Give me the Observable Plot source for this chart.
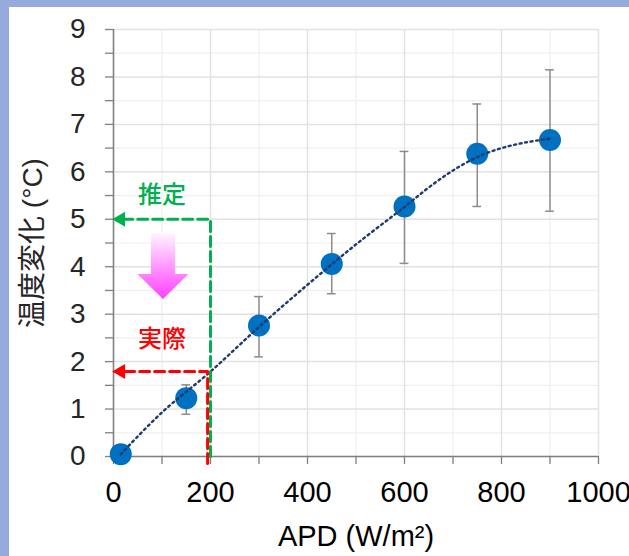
<!DOCTYPE html>
<html><head><meta charset="utf-8">
<script src="https://cdn.jsdelivr.net/npm/d3@7"></script>
<script src="https://cdn.jsdelivr.net/npm/@observablehq/plot@0.6"></script>
<style>
html,body{margin:0;padding:0;}
body{width:629px;height:556px;background:#98aadb;overflow:hidden;position:relative;}
#chart{position:absolute;left:9px;top:7px;width:620px;height:549px;background:#fff;}
</style></head><body><div id="chart"></div>
<script>
// measured data
const apd = [15, 150, 300, 450, 600, 750, 900];
const tempChange = [0.05, 1.23, 2.76, 4.06, 5.27, 6.38, 6.67];
const errLow = [null, 0.89, 2.10, 3.43, 4.07, 5.27, 5.17];
const errHigh = [null, 1.51, 3.37, 4.70, 6.43, 7.43, 8.15];
// dotted trend line
const trendApd = [15, 100, 200, 300, 400, 500, 600, 650, 700, 750, 800, 850, 900];
const trendTemp = [0.05, 0.93, 1.79, 2.73, 3.62, 4.47, 5.26, 5.67, 6.03, 6.31, 6.50, 6.62, 6.70];
// tick labels
const xTicks = [0, 200, 400, 600, 800, 1000];
const xAllTicks = [0, 100, 200, 300, 400, 500, 600, 700, 800, 900, 1000];
const yTicks = [0, 1, 2, 3, 4, 5, 6, 7, 8, 9];
const yAllTicks = [0, 0.5, 1, 1.5, 2, 2.5, 3, 3.5, 4, 4.5, 5, 5.5, 6, 6.5, 7, 7.5, 8, 8.5, 9];
// guide annotations
const guideLabels = ["推定", "実際"];
const guideApd = [200, 194];
const guideTemp = [5.0, 1.79];
const guideLabelApd = [100, 100];
const guideLabelTemp = [5.5, 2.46];
const guideColors = ["#00b050", "#ff0000"];
// pink "down" arrow
const shiftApd = 103;
const shiftFrom = 4.70;
const shiftTo = 3.31;

const points = apd.map((x, i) => ({x, y: tempChange[i], lo: errLow[i], hi: errHigh[i]}));
const bars = points.filter(d => d.lo != null);
const trend = trendApd.map((x, i) => ({x, y: trendTemp[i]}));
const guides = guideLabels.map((label, i) => ({
  label, x: guideApd[i], y: guideTemp[i], lx: guideLabelApd[i], ly: guideLabelTemp[i], color: guideColors[i],
  start: i === 1 ? -0.15 : 0
}));
const guidePaths = guides.flatMap((g, i) => [
  {id: i, x: g.x, y: g.start, color: g.color},
  {id: i, x: g.x, y: g.y, color: g.color},
  {id: i, x: 16, y: g.y, color: g.color}
]);

function pinkArrow(index, scales) {
  const cx = scales.x(shiftApd), y0 = scales.y(shiftFrom), y1 = scales.y(shiftTo);
  const sh = 12, hh = 25.5, hl = 25;
  const g = d3.create("svg:g");
  const grad = g.append("defs").append("linearGradient").attr("id", "pinkGrad")
    .attr("x1", 0).attr("y1", 0).attr("x2", 0).attr("y2", 1);
  grad.append("stop").attr("offset", "0%").attr("stop-color", "#fff6ff");
  grad.append("stop").attr("offset", "100%").attr("stop-color", "#ff3dff");
  g.append("path")
    .attr("d", `M${cx - sh},${y0}H${cx + sh}V${y1 - hl}H${cx + hh}L${cx},${y1}L${cx - hh},${y1 - hl}H${cx - sh}Z`)
    .attr("fill", "url(#pinkGrad)");
  return g.node();
}

const chart = Plot.plot({
  width: 620,
  height: 549,
  marginLeft: 104,
  marginRight: 31,
  marginTop: 22,
  marginBottom: 100,
  x: {domain: [0, 1000]},
  y: {domain: [0, 9]},
  style: {fontFamily: "'Liberation Sans', Arial, 'Noto Sans CJK JP', sans-serif", fontSize: "29px", color: "#000", background: "transparent"},
  marks: [
    Plot.ruleX(xAllTicks.filter(d => d % 200 !== 0), {stroke: "#efefef", strokeWidth: 1.2}),
    Plot.ruleY(yAllTicks.filter(d => d % 1 !== 0), {stroke: "#efefef", strokeWidth: 1.2}),
    Plot.ruleX(xTicks, {stroke: "#e2e2e2", strokeWidth: 1.5}),
    Plot.ruleY(yTicks, {stroke: "#e2e2e2", strokeWidth: 1.5}),
    Plot.axisX({ticks: xAllTicks, tickSize: 8, tickFormat: () => "", stroke: "#808080", strokeWidth: 1.3, label: null}),
    Plot.axisX({ticks: xTicks, tickSize: 0, tickPadding: 25, tickFormat: d => String(d), label: "APD (W/m²)", labelArrow: "none", labelAnchor: "center", labelOffset: 89, fill: "#000"}),
    Plot.axisY({ticks: yAllTicks, tickSize: 8, tickFormat: () => "", stroke: "#808080", strokeWidth: 1.3, label: null}),
    Plot.axisY({ticks: yTicks, tickSize: 0, tickPadding: 28, tickFormat: d => String(d), label: "温度変化 (°C)", labelArrow: "none", labelAnchor: "center", labelOffset: 91, fontSize: 28, fill: "#262626"}),
    Plot.ruleX([0], {y1: 0, y2: 9, stroke: "#808080", strokeWidth: 1.5}),
    Plot.ruleY([0], {x1: 0, x2: 1000, stroke: "#808080", strokeWidth: 1.5}),
    Plot.ruleX(bars, {x: "x", y1: "lo", y2: "hi", stroke: "#8c8c8c", strokeWidth: 1.5}),
    Plot.ruleY(bars, {y: "lo", x1: d => d.x - 9, x2: d => d.x + 9, stroke: "#8c8c8c", strokeWidth: 1.5}),
    Plot.ruleY(bars, {y: "hi", x1: d => d.x - 9, x2: d => d.x + 9, stroke: "#8c8c8c", strokeWidth: 1.5}),
    Plot.dot(points, {x: "x", y: "y", r: 11, fill: "#0070c0"}),
    Plot.line(trend, {x: "x", y: "y", curve: "catmull-rom", stroke: "#1f3a6e", strokeWidth: 2.4, strokeDasharray: "2,3.6"}),
    Plot.line(guidePaths, {x: "x", y: "y", z: "id", stroke: "color", strokeWidth: 3, strokeDasharray: "10,5"}),
    Plot.dot(guides, {x: 15, y: "y", symbol: "triangle", r: 5.6, rotate: -90, fill: "color", stroke: null}),
    pinkArrow,
    Plot.text(guides, {x: "lx", y: "ly", text: "label", fill: "color", fontSize: 24, fontWeight: 500, fontFamily: "'Noto Sans CJK JP', sans-serif"})
  ]
});
document.getElementById("chart").append(chart);
</script></body></html>
